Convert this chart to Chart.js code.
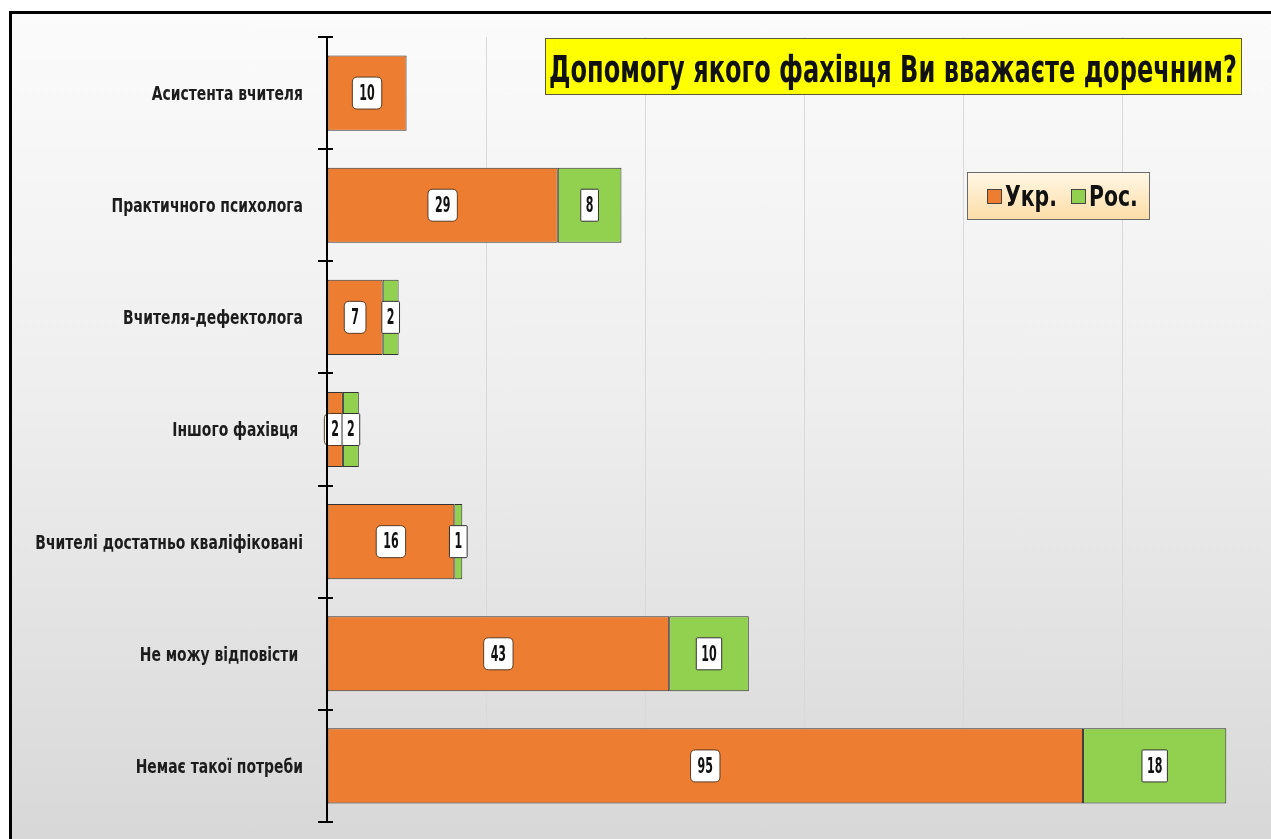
<!DOCTYPE html>
<html>
<head>
<meta charset="utf-8">
<script src="https://cdn.jsdelivr.net/npm/chart.js"></script>
<style>
  html, body { margin: 0; padding: 0; overflow: hidden; background: #fff; }
  .frame {
    position: absolute; left: 9px; top: 11px; width: 1300px; height: 860px;
    border: 3px solid #000;
    background: linear-gradient(to bottom, #fbfbfb 0%, #eeeeee 45%, #d6d6d6 100%);
  }
  #wrap { position: absolute; left: 0; top: 0; }
</style>
</head>
<body>
<div class="frame"></div>
<div id="wrap"><canvas id="chart" width="1300" height="850"></canvas></div>
<script>
const categories = [
  'Асистента вчителя',
  'Практичного психолога',
  'Вчителя-дефектолога',
  'Іншого фахівця ',
  'Вчителі достатньо кваліфіковані',
  'Не можу відповісти ',
  'Немає такої потреби'
];
const seriesNames = ['Укр.', 'Рос.'];
const ukrValues = [10, 29, 7, 2, 16, 43, 95];
const rosValues = [0, 8, 2, 2, 1, 10, 18];
const seriesColors = ['#ed7d31', '#92d050'];
const xMax = 120;
const xStep = 20;
const chartTitle = 'Допомогу якого фахівця Ви вважаєте доречним?';

const FONT = "'DejaVu Sans Condensed', 'DejaVu Sans', sans-serif";

function roundRect(ctx, x, y, w, h, r) {
  ctx.beginPath();
  ctx.moveTo(x + r, y);
  ctx.lineTo(x + w - r, y);
  ctx.quadraticCurveTo(x + w, y, x + w, y + r);
  ctx.lineTo(x + w, y + h - r);
  ctx.quadraticCurveTo(x + w, y + h, x + w - r, y + h);
  ctx.lineTo(x + r, y + h);
  ctx.quadraticCurveTo(x, y + h, x, y + h - r);
  ctx.lineTo(x, y + r);
  ctx.quadraticCurveTo(x, y, x + r, y);
  ctx.closePath();
}

// condensed text: the page has no narrow font, so squeeze horizontally
function squeezeText(ctx, text, x, y, sx, align) {
  const w = ctx.measureText(text).width * sx;
  let left = x;
  if (align === 'right') left = x - w;
  if (align === 'center') left = x - w / 2;
  ctx.save();
  ctx.translate(left, y);
  ctx.scale(sx, 1);
  ctx.textAlign = 'left';
  ctx.fillText(text, 0, 0);
  ctx.restore();
  return w;
}

// axis line with ticks crossing it, plus the category labels
const axisPlugin = {
  id: 'axisCross',
  afterDraw(chart) {
    const ctx = chart.ctx;
    const a = chart.chartArea;
    const yScale = chart.scales.y;
    const n = categories.length;
    const step = (a.bottom - a.top) / n;
    ctx.save();
    ctx.strokeStyle = '#000';
    ctx.lineWidth = 2;
    ctx.beginPath();
    ctx.moveTo(a.left, a.top);
    ctx.lineTo(a.left, a.bottom);
    for (let i = 0; i <= n; i++) {
      const y = Math.round(a.top + i * step);
      ctx.moveTo(a.left - 9, y);
      ctx.lineTo(a.left + 6, y);
    }
    ctx.stroke();

    ctx.fillStyle = '#1c1c1c';
    ctx.font = 'bold 19px ' + FONT;
    ctx.textBaseline = 'middle';
    categories.forEach((c, i) => {
      squeezeText(ctx, c, a.left - 24, yScale.getPixelForValue(i) + 2, 0.815, 'right');
    });
    ctx.restore();
  }
};

// value boxes on the bars
const valueLabels = {
  id: 'valueLabels',
  afterDatasetsDraw(chart) {
    const ctx = chart.ctx;
    ctx.save();
    ctx.font = 'bold 22px ' + FONT;
    ctx.textBaseline = 'middle';
    const sx = 0.56;
    chart.data.datasets.forEach((ds, di) => {
      chart.getDatasetMeta(di).data.forEach((bar, i) => {
        const v = ds.data[i];
        if (!v) return;
        const cx = (bar.x + bar.base) / 2;
        const cy = bar.y;
        const t = String(v);
        const w = ctx.measureText(t).width * sx + (di === 0 ? 14 : 10);
        const h = 32;
        roundRect(ctx, cx - w / 2, cy - h / 2, w, h, di === 0 ? 5 : 1);
        ctx.fillStyle = '#fff';
        ctx.fill();
        ctx.strokeStyle = di === 0 ? '#5a3a22' : '#333';
        ctx.lineWidth = 1;
        ctx.stroke();
        ctx.fillStyle = '#111';
        squeezeText(ctx, t, cx, cy + 1, sx, 'center');
      });
    });
    ctx.restore();
  }
};

// title box and legend box
const titleLegend = {
  id: 'titleLegend',
  afterDraw(chart) {
    const ctx = chart.ctx;
    ctx.save();
    // title
    ctx.fillStyle = '#ffff00';
    ctx.fillRect(545, 38, 697, 57);
    ctx.strokeStyle = '#5a5a3a';
    ctx.lineWidth = 1;
    ctx.strokeRect(545.5, 38.5, 696, 56);
    ctx.font = 'bold 37px ' + FONT;
    ctx.textBaseline = 'alphabetic';
    ctx.fillStyle = '#111';
    const tw = ctx.measureText(chartTitle).width;
    squeezeText(ctx, chartTitle, 893, 82, 688 / tw, 'center');

    // legend
    const g = ctx.createLinearGradient(0, 172, 0, 220);
    g.addColorStop(0, '#fff8e6');
    g.addColorStop(1, '#fcdca6');
    ctx.fillStyle = g;
    ctx.fillRect(967, 172, 183, 48);
    ctx.strokeStyle = '#6b6b6b';
    ctx.strokeRect(967.5, 172.5, 182, 47);
    ctx.font = 'bold 28px ' + FONT;
    const lsx = 52 / ctx.measureText(seriesNames[0]).width;
    let x = 987;
    seriesNames.forEach((name, i) => {
      ctx.fillStyle = seriesColors[i];
      ctx.fillRect(x, 189, 15, 15);
      ctx.strokeStyle = '#444';
      ctx.strokeRect(x + 0.5, 189.5, 14, 14);
      ctx.fillStyle = '#111';
      const w = squeezeText(ctx, name, x + 18, 206, lsx, 'left');
      x += 18 + w + 14;
    });
    ctx.restore();
  }
};

new Chart(document.getElementById('chart'), {
  type: 'bar',
  data: {
    labels: categories,
    datasets: [
      { label: seriesNames[0], data: ukrValues, backgroundColor: seriesColors[0] },
      { label: seriesNames[1], data: rosValues, backgroundColor: seriesColors[1] }
    ].map(d => Object.assign(d, {
      borderColor: '#333', borderWidth: 1, borderSkipped: false,
      categoryPercentage: 1, barPercentage: 0.67
    }))
  },
  options: {
    indexAxis: 'y',
    responsive: false,
    animation: false,
    layout: { padding: { top: 37, right: 18, left: 0, bottom: 0 } },
    plugins: {
      legend: { display: false },
      tooltip: { enabled: false }
    },
    scales: {
      x: {
        stacked: true, min: 0, max: xMax,
        ticks: { display: false, stepSize: xStep },
        grid: { color: '#d9d9d9', lineWidth: 1, drawTicks: false },
        border: { display: false },
        afterFit(s) { s.height = 28; }
      },
      y: {
        stacked: true,
        grid: { display: false },
        border: { display: false },
        ticks: { display: false },
        afterFit(s) { s.width = 327; }
      }
    }
  },
  plugins: [axisPlugin, valueLabels, titleLegend]
});
</script>
</body>
</html>
